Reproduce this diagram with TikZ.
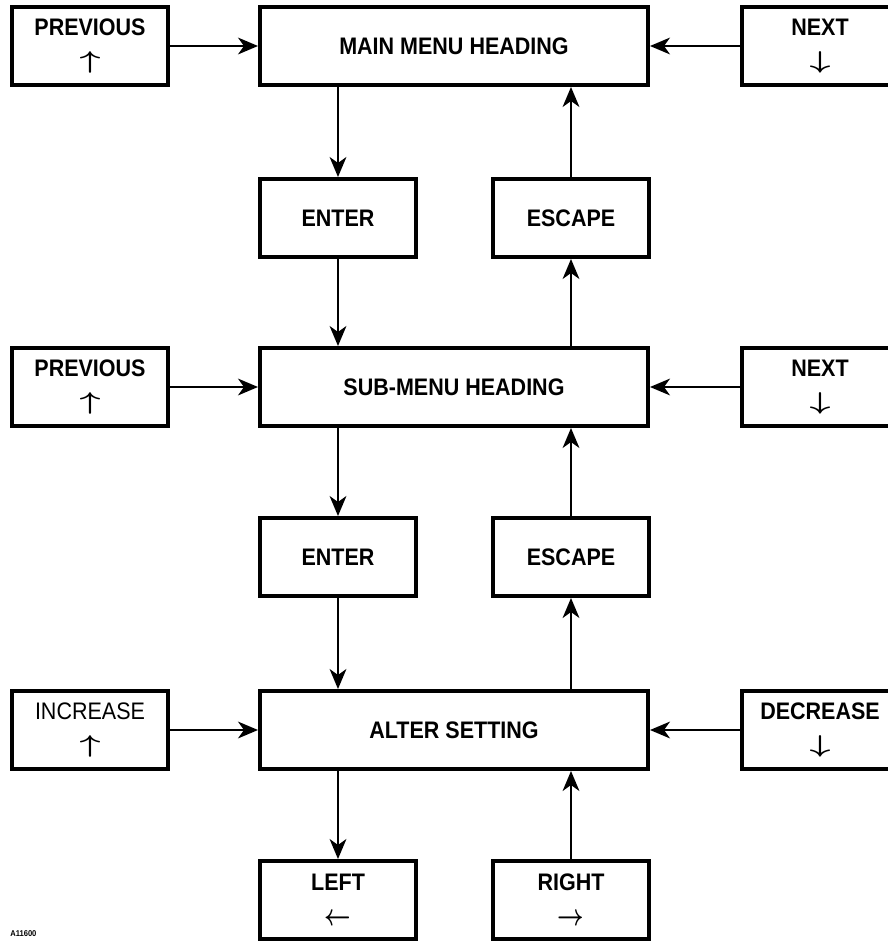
\documentclass[tikz,border=0pt]{standalone}
\usepackage{graphicx}
\usepackage{fontspec}
\setmainfont{Liberation Sans}[FakeStretch=0.9]
\usetikzlibrary{arrows.meta}
\newcommand{\keyup}{\scalebox{1.5}[1]{\boldmath$\uparrow$}}
\newcommand{\keydown}{\scalebox{1.5}[1]{\boldmath$\downarrow$}}
\newcommand{\keyleft}{\scalebox{0.95}[1.25]{\boldmath$\leftarrow$}}
\newcommand{\keyright}{\scalebox{0.95}[1.25]{\boldmath$\rightarrow$}}

\begin{document}
\begin{tikzpicture}[
        box/.style={draw, line width=0.1cm, minimum height=1.95cm, align=center,
            font=\bfseries\fontsize{17pt}{23pt}\selectfont},
        key/.style={box, minimum width=3.9cm},
        wide/.style={box, minimum width=9.7cm},
        link/.style={line width=0.05cm, -{Stealth[length=0.5cm,width=0.42cm,inset=0.15cm]}}
    ]
            \useasboundingbox (0,0) rectangle (22.2,-23.525);
            % menu levels
            \node[wide] (mainmenu) at (11.35,-1.15) {MAIN MENU HEADING};
            \node[wide] (submenu) at (11.35,-9.675) {SUB-MENU HEADING};
            \node[wide] (alter) at (11.35,-18.25) {ALTER SETTING};
            % side keys
            \node[key] (prevmain) at (2.25,-1.15) {PREVIOUS\\\keyup};
            \node[key] (nextmain) at (20.5,-1.15) {NEXT\\\keydown};
            \node[key] (prevsub) at (2.25,-9.675) {PREVIOUS\\\keyup};
            \node[key] (nextsub) at (20.5,-9.675) {NEXT\\\keydown};
            \node[key] (increase) at (2.25,-18.25) {\mdseries INCREASE\\\keyup};
            \node[key] (decrease) at (20.5,-18.25) {DECREASE\\\keydown};
            % enter / escape keys
            \node[key] (enter1) at (8.45,-5.45) {ENTER};
            \node[key] (escape1) at (14.275,-5.45) {ESCAPE};
            \node[key] (enter2) at (8.45,-13.925) {ENTER};
            \node[key] (escape2) at (14.275,-13.925) {ESCAPE};
            \node[key] (leftkey) at (8.45,-22.5) {LEFT\\[2pt]\keyleft};
            \node[key] (rightkey) at (14.275,-22.5) {RIGHT\\[2pt]\keyright};
            \node[font=\bfseries\fontsize{6pt}{7pt}\selectfont, anchor=west, inner sep=0pt] (code) at (0.25,-23.35) {A11600};
            % connectors
            \draw[link] (prevmain) -- (mainmenu);
            \draw[link] (nextmain) -- (mainmenu);
            \draw[link] (prevsub) -- (submenu);
            \draw[link] (nextsub) -- (submenu);
            \draw[link] (increase) -- (alter);
            \draw[link] (decrease) -- (alter);
            \draw[link] (enter1 |- mainmenu.south) -- (enter1);
            \draw[link] (enter1) -- (enter1 |- submenu.north);
            \draw[link] (escape1) -- (escape1 |- mainmenu.south);
            \draw[link] (escape1 |- submenu.north) -- (escape1);
            \draw[link] (enter2 |- submenu.south) -- (enter2);
            \draw[link] (enter2) -- (enter2 |- alter.north);
            \draw[link] (escape2) -- (escape2 |- submenu.south);
            \draw[link] (escape2 |- alter.north) -- (escape2);
            \draw[link] (leftkey |- alter.south) -- (leftkey);
            \draw[link] (rightkey) -- (rightkey |- alter.south);
        \end{tikzpicture}
\end{document}
